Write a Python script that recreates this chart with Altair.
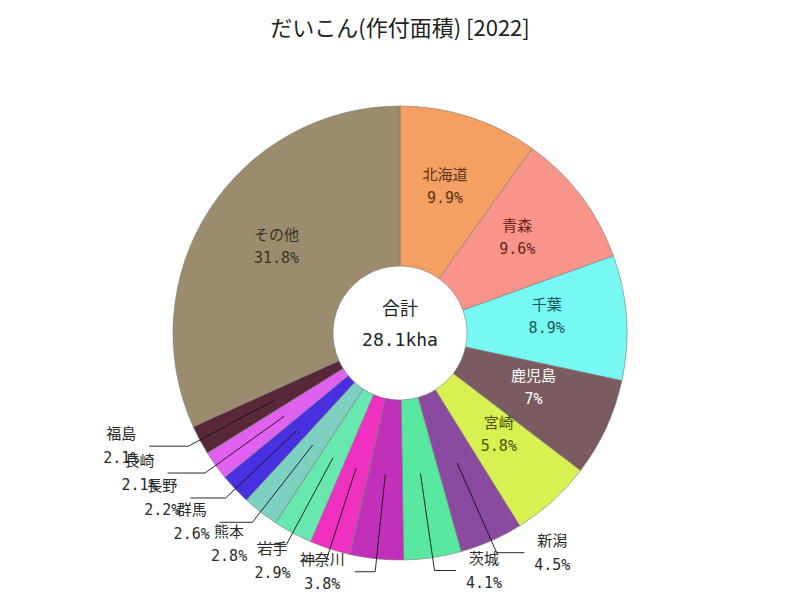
import math
import altair as alt
import pandas as pd

# ---- data ----
names = ["北海道", "青森", "千葉", "鹿児島", "宮崎", "新潟", "茨城", "神奈川",
         "岩手", "熊本", "群馬", "長野", "長崎", "福島", "その他"]
shares = [9.9, 9.6, 8.9, 7.0, 5.8, 4.5, 4.1, 3.8, 2.9, 2.8, 2.6, 2.2, 2.1, 2.1, 31.8]
total_label = ["合計", "28.1kha"]
title_text = "だいこん(作付面積) [2022]"

# ---- styles ----
slice_colors = ["#f5a062", "#f8948a", "#78f8f2", "#7a5c60", "#d8f050", "#8a4aa0",
                "#58e8a0", "#c030b8", "#f030c0", "#68e8b0", "#7ed0c0", "#4830e0",
                "#e060f0", "#582838", "#9a8c6c"]
inside_text_colors = {"北海道": "#5a3418", "青森": "#6a2420", "千葉": "#1a5a58",
                      "鹿児島": "#ffffff", "宮崎": "#4a5410", "その他": "#3a3428"}

FONT = "DejaVu Sans Mono, Noto Sans CJK JP"
W, H = 784, 540
TOP = 42
cx, cy = 392, 330 - TOP
R_IN, R_OUT = 67, 227
R_LAB, R_START, R_ELBOW = 147, 142, 240
LH_IN, LH_OUT, LH_C = 23, 24, 31

total = sum(shares)


def pct(v):
    return f"{v:g}%"


arc_df = pd.DataFrame({"name": names, "share": shares, "idx": list(range(len(names)))})

inner_rows, line_rows, outer_rows = [], [], []
cum = 0.0
for n, v in zip(names, shares):
    th = 2 * math.pi * (cum + v / 2) / total
    cum += v
    s, c = math.sin(th), math.cos(th)
    txt = f"{n}\n{pct(v)}"
    if n in inside_text_colors:
        inner_rows.append({"x": cx + R_LAB * s, "y": cy - R_LAB * c - 7 - LH_IN / 2,
                           "text": txt, "tc": inside_text_colors[n]})
    else:
        x0, y0 = cx + R_START * s, cy - R_START * c
        x1, y1 = cx + R_ELBOW * s, cy - R_ELBOW * c
        side = 1 if s > 0 else -1
        seg = 18 + 24 * abs(s)
        x2 = x1 + side * seg
        line_rows.append({"x": x0, "y": y0, "x2": x1, "y2": y1})
        line_rows.append({"x": x1, "y": y1, "x2": x2, "y2": y1})
        w = max(len(n) * 15, len(pct(v)) * 9)
        outer_rows.append({"x": x2 + side * (10 + w / 2), "y": y1 - LH_OUT / 2, "text": txt})

inner_df = pd.DataFrame(inner_rows)
line_df = pd.DataFrame(line_rows)
outer_df = pd.DataFrame(outer_rows)
center_df = pd.DataFrame({"x": [cx], "y": [cy - 8 - LH_C / 2], "text": ["\n".join(total_label)]})

xs = alt.Scale(domain=[0, W], nice=False, zero=False)
ys = alt.Scale(domain=[0, H], nice=False, zero=False, reverse=True)

arcs = alt.Chart(arc_df).mark_arc(
    innerRadius=R_IN, outerRadius=R_OUT, stroke="#7a7a7a", strokeWidth=0.6
).encode(
    theta=alt.Theta("share:Q", stack=True),
    order=alt.Order("idx:Q"),
    color=alt.Color("name:N", scale=alt.Scale(domain=names, range=slice_colors), legend=None),
    x=alt.value(cx),
    y=alt.value(cy),
)

inner = alt.Chart(inner_df).mark_text(
    font=FONT, fontSize=15, lineBreak="\n", lineHeight=LH_IN, align="center", baseline="middle"
).encode(
    x=alt.X("x:Q", scale=xs, axis=None),
    y=alt.Y("y:Q", scale=ys, axis=None),
    text="text:N",
    color=alt.Color("tc:N", scale=None),
)

lines = alt.Chart(line_df).mark_rule(color="#111111", strokeWidth=0.9).encode(
    x=alt.X("x:Q", scale=xs, axis=None),
    y=alt.Y("y:Q", scale=ys, axis=None),
    x2="x2:Q",
    y2="y2:Q",
)

outer = alt.Chart(outer_df).mark_text(
    font=FONT, fontSize=15, lineBreak="\n", lineHeight=LH_OUT, align="center",
    baseline="middle", color="#2a2a2a"
).encode(
    x=alt.X("x:Q", scale=xs, axis=None),
    y=alt.Y("y:Q", scale=ys, axis=None),
    text="text:N",
)

center = alt.Chart(center_df).mark_text(
    font=FONT, fontSize=18, lineBreak="\n", lineHeight=LH_C, align="center",
    baseline="middle", color="#222222"
).encode(
    x=alt.X("x:Q", scale=xs, axis=None),
    y=alt.Y("y:Q", scale=ys, axis=None),
    text="text:N",
)

chart = alt.layer(arcs, inner, lines, outer, center).properties(
    width=W, height=H,
    padding={"left": 0, "right": 0, "top": 10, "bottom": 0},
    title=alt.TitleParams(title_text, font="Noto Sans CJK JP", fontSize=22,
                          fontWeight="normal", color="#222222", anchor="middle"),
).configure_view(stroke=None)

chart.save("out.html", embed_options={"renderer": "svg", "actions": False})
